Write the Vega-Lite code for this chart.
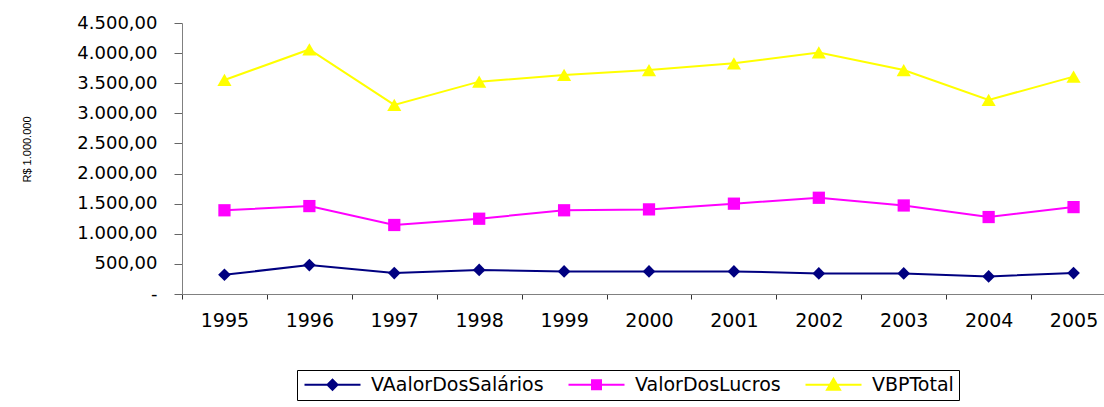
{
  "$schema": "https://vega.github.io/schema/vega-lite/v6.json",
  "width": 922,
  "height": 271,
  "autosize": {"type": "none"},
  "padding": {"left": 182, "top": 23, "right": 0, "bottom": 113},
  "background": "white",
  "config": {
    "view": {"stroke": null},
    "font": "DejaVu Sans",
    "locale": {"number": {"decimal": ",", "thousands": ".", "grouping": [3], "currency": ["R$", ""]}}
  },
  "data": {"values": [
    {"year": "1995", "series": "VAalorDosSalários", "value": 320},
    {"year": "1996", "series": "VAalorDosSalários", "value": 480},
    {"year": "1997", "series": "VAalorDosSalários", "value": 347},
    {"year": "1998", "series": "VAalorDosSalários", "value": 400},
    {"year": "1999", "series": "VAalorDosSalários", "value": 375},
    {"year": "2000", "series": "VAalorDosSalários", "value": 375},
    {"year": "2001", "series": "VAalorDosSalários", "value": 375},
    {"year": "2002", "series": "VAalorDosSalários", "value": 342},
    {"year": "2003", "series": "VAalorDosSalários", "value": 342},
    {"year": "2004", "series": "VAalorDosSalários", "value": 292},
    {"year": "2005", "series": "VAalorDosSalários", "value": 347},
    {"year": "1995", "series": "ValorDosLucros", "value": 1390},
    {"year": "1996", "series": "ValorDosLucros", "value": 1460},
    {"year": "1997", "series": "ValorDosLucros", "value": 1146},
    {"year": "1998", "series": "ValorDosLucros", "value": 1250},
    {"year": "1999", "series": "ValorDosLucros", "value": 1390},
    {"year": "2000", "series": "ValorDosLucros", "value": 1405},
    {"year": "2001", "series": "ValorDosLucros", "value": 1500},
    {"year": "2002", "series": "ValorDosLucros", "value": 1598},
    {"year": "2003", "series": "ValorDosLucros", "value": 1470},
    {"year": "2004", "series": "ValorDosLucros", "value": 1278},
    {"year": "2005", "series": "ValorDosLucros", "value": 1443},
    {"year": "1995", "series": "VBPTotal", "value": 3554},
    {"year": "1996", "series": "VBPTotal", "value": 4061},
    {"year": "1997", "series": "VBPTotal", "value": 3141},
    {"year": "1998", "series": "VBPTotal", "value": 3526},
    {"year": "1999", "series": "VBPTotal", "value": 3637},
    {"year": "2000", "series": "VBPTotal", "value": 3719},
    {"year": "2001", "series": "VBPTotal", "value": 3830},
    {"year": "2002", "series": "VBPTotal", "value": 4011},
    {"year": "2003", "series": "VBPTotal", "value": 3719},
    {"year": "2004", "series": "VBPTotal", "value": 3223},
    {"year": "2005", "series": "VBPTotal", "value": 3609}
  ]},
  "encoding": {
    "x": {
      "field": "year", "type": "ordinal",
      "scale": {"paddingInner": 0, "paddingOuter": 0, "range": [0, 934]},
      "axis": {
        "title": null, "labelAngle": 0, "tickBand": "extent", "grid": false,
        "domainColor": "#808080", "tickColor": "#333333", "tickSize": 5,
        "labelFont": "DejaVu Sans", "labelFontSize": 19, "labelColor": "black", "labelPadding": 12
      }
    },
    "y": {
      "field": "value", "type": "quantitative",
      "scale": {"domain": [0, 4500], "nice": false},
      "axis": {
        "values": [0, 500, 1000, 1500, 2000, 2500, 3000, 3500, 4000, 4500],
        "format": ",.2f",
        "labelExpr": "datum.value === 0 ? '-\u00a0\u00a0\u00a0\u00a0\u00a0' : datum.label",
        "grid": false, "domainColor": "#808080", "tickColor": "#666666", "tickSize": 8,
        "labelFont": "DejaVu Sans", "labelFontSize": 18, "labelColor": "black", "labelPadding": 17,
        "title": "R$ 1.000.000", "titleFont": "Liberation Sans", "titleFontSize": 11,
        "titleFontWeight": "normal", "titleColor": "black",
        "titleX": -155, "titleY": 126, "titleAngle": -90, "titleAlign": "center", "titleBaseline": "middle"
      }
    },
    "color": {
      "field": "series", "type": "nominal",
      "scale": {"domain": ["VAalorDosSalários", "ValorDosLucros", "VBPTotal"], "range": ["#000080", "#FF00FF", "#FFFF00"]},
      "legend": {
        "orient": "none", "legendX": 115, "legendY": 347, "direction": "horizontal", "title": null,
        "strokeColor": "black", "fillColor": "white", "padding": 5,
        "labelFont": "DejaVu Sans", "labelFontSize": 19, "labelColor": "black", "labelLimit": 400,
        "symbolSize": 144, "labelOffset": 50, "columnPadding": 20, "symbolStrokeWidth": 2,
        "encode": {
          "symbols": {
            "update": {
              "shape": {"signal": "datum.value === 'VAalorDosSalários' ? 'M-1.1667,0H8.1667M2.667,0L3.5,-0.833L4.333,0L3.5,0.833Z' : datum.value === 'ValorDosLucros' ? 'M-1.1667,0H8.1667M2.75,-0.75H4.25V0.75H2.75Z' : 'M-1.1667,0H8.1667M3.5,-1L4.583,0.833H2.417Z'"},
              "fill": {"scale": "color", "field": "value"},
              "stroke": {"scale": "color", "field": "value"},
              "strokeWidth": {"value": 2},
              "opacity": {"value": 1}
            }
          }
        }
      }
    }
  },
  "layer": [
    {"mark": {"type": "line", "strokeWidth": 2}},
    {
      "transform": [{"filter": "datum.series === 'VAalorDosSalários'"}],
      "mark": {"type": "point", "shape": "diamond", "size": 160, "filled": true, "opacity": 1}
    },
    {
      "transform": [{"filter": "datum.series === 'ValorDosLucros'"}],
      "mark": {"type": "point", "shape": "square", "size": 150, "filled": true, "opacity": 1}
    },
    {
      "transform": [{"filter": "datum.series === 'VBPTotal'"}],
      "mark": {"type": "point", "shape": "triangle-up", "size": 200, "filled": true, "opacity": 1}
    }
  ]
}
